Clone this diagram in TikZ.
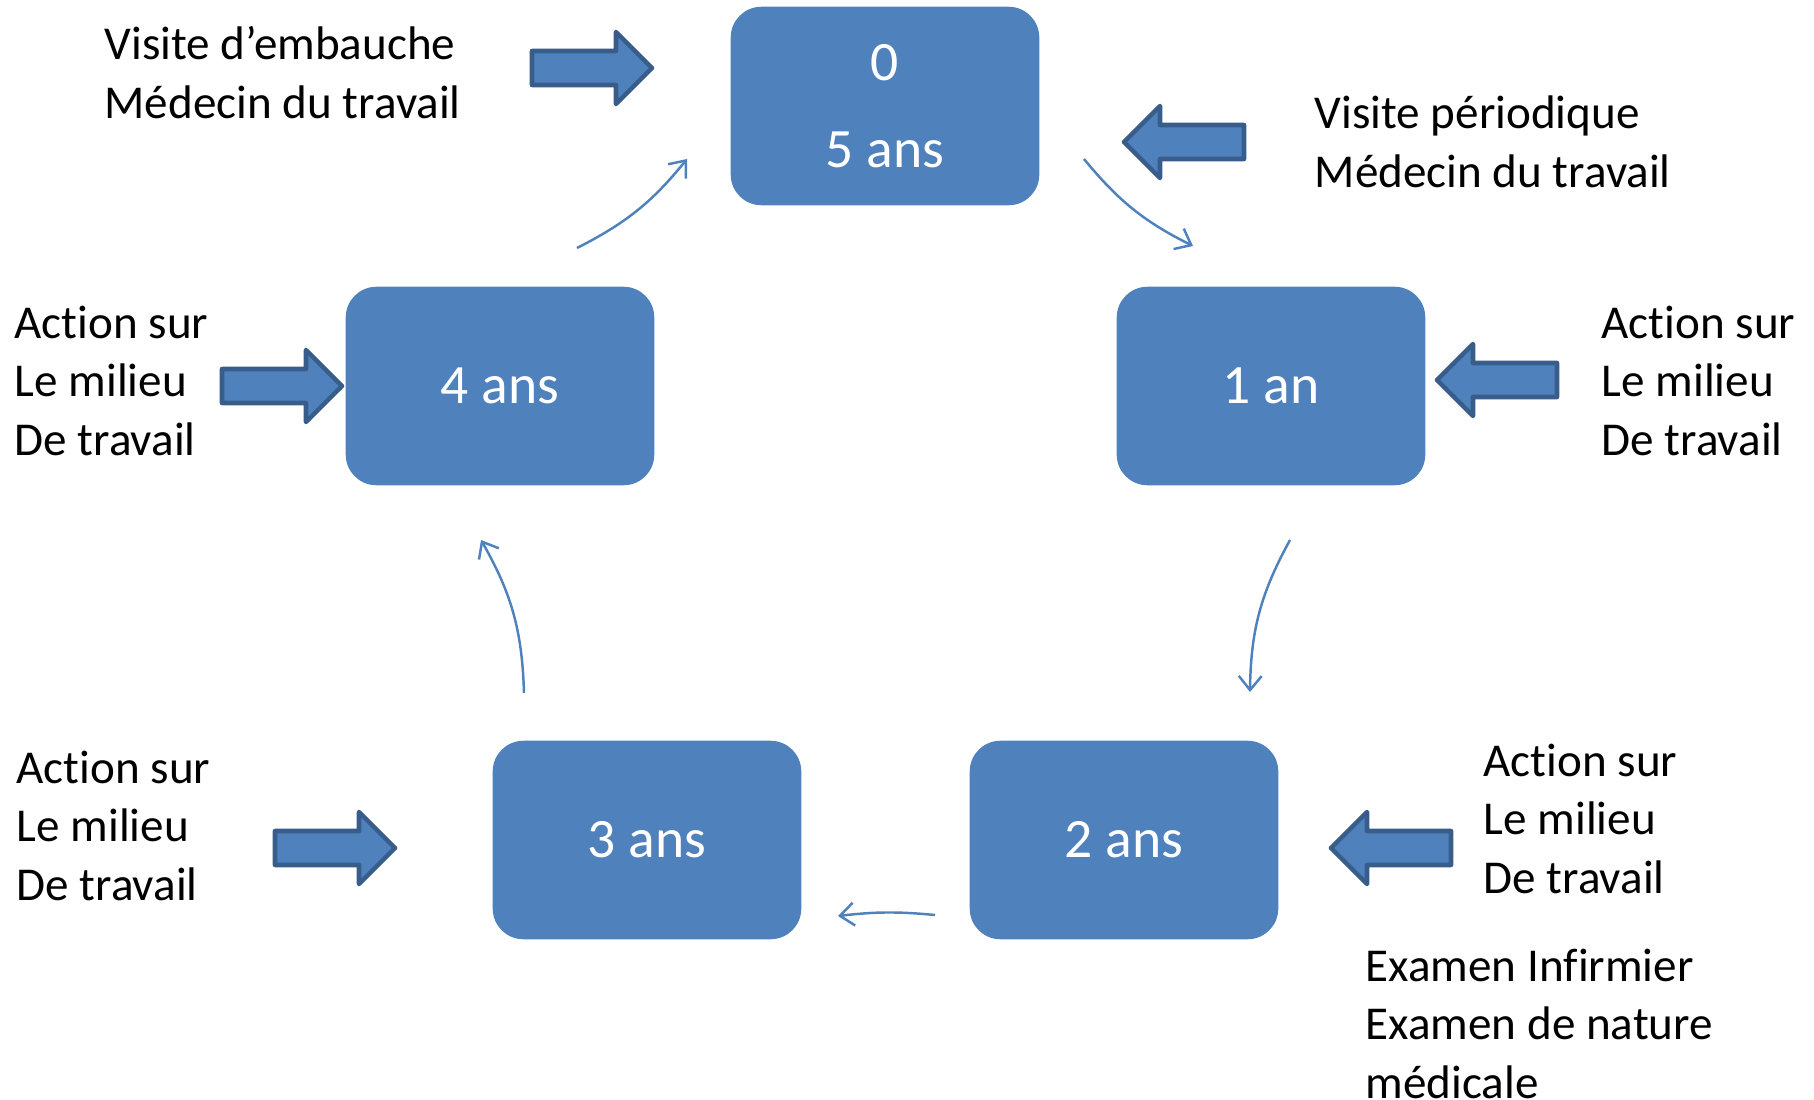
\documentclass[tikz,border=0pt]{standalone}
\usepackage{fontspec}
\setmainfont[Ligatures=NoCommon]{Carlito}
\usetikzlibrary{arrows.meta}
\definecolor{bleu}{HTML}{4F81BD}
\definecolor{bleufonce}{HTML}{385D8A}
\tikzset{
  etape/.style={rectangle, rounded corners=0.3cm, fill=bleu, draw=bleu, text=white,
    minimum width=3.07cm, minimum height=1.97cm, align=center,
    font=\fontsize{15.8}{24.7}\selectfont},
  legende/.style={anchor=base west, align=left, inner sep=0pt,
    font=\fontsize{13.4}{16.5}\selectfont},
  liaison/.style={bleu, line width=0.7pt, -{Straight Barb[length=4pt,width=6.5pt]}},
  pics/fleche/.style={code={
    \draw[fill=bleu, draw=bleufonce, line width=1.3pt, line join=round]
      (-2,0) -- (-38,-36) -- (-38,-17) -- (-122,-17) -- (-122,17) -- (-38,17) -- (-38,36) -- cycle;
  }}
}
\begin{document}
\begin{tikzpicture}[x=0.01cm, y=-0.01cm]
\useasboundingbox (0,0) rectangle (1814,1100);
% etapes du cycle
\node[etape] (e0) at (885,106) {0\\5 ans};
\node[etape] (e1) at (1271,386) {1 an};
\node[etape] (e2) at (1124,840) {2 ans};
\node[etape] (e3) at (647,840) {3 ans};
\node[etape] (e4) at (500,386) {4 ans};
% legendes
\node[legende] (t0) at (104,118) {Visite d’embauche\\Médecin du travail};
\node[legende] (t1) at (1314,187) {Visite périodique\\Médecin du travail};
\node[legende] (t4) at (14,455) {Action sur\\Le milieu\\De travail};
\node[legende] (t1b) at (1601,455) {Action sur\\Le milieu\\De travail};
\node[legende] (t3) at (16,900) {Action sur\\Le milieu\\De travail};
\node[legende] (t2) at (1483,893) {Action sur\\Le milieu\\De travail};
\node[legende] (t2b) at (1365,1098) {Examen Infirmier\\Examen de nature\\médicale};
% grosses fleches
\pic at (654,68) {fleche};
\pic[rotate=180] at (1122,142) {fleche};
\pic at (344,386) {fleche};
\pic[rotate=180] at (1435,380) {fleche};
\pic at (397,848) {fleche};
\pic[rotate=180] at (1329,848) {fleche};
% liaisons
\coordinate (a4) at (577,248);
\coordinate (b0) at (687,159);
\coordinate (a0) at (1084,159);
\coordinate (b1) at (1193,246);
\coordinate (a1) at (1290,540);
\coordinate (b2) at (1250,692);
\coordinate (a2) at (935,915);
\coordinate (b3) at (838,916);
\coordinate (a3) at (524,693);
\coordinate (b4) at (481,540);
\draw[liaison] (a4) to[bend right=12] (b0);
\draw[liaison] (a0) to[bend right=12] (b1);
\draw[liaison] (a1) to[bend right=14] (b2);
\draw[liaison] (a2) to[bend right=6] (b3);
\draw[liaison] (a3) to[bend right=14] (b4);
\end{tikzpicture}
\end{document}
